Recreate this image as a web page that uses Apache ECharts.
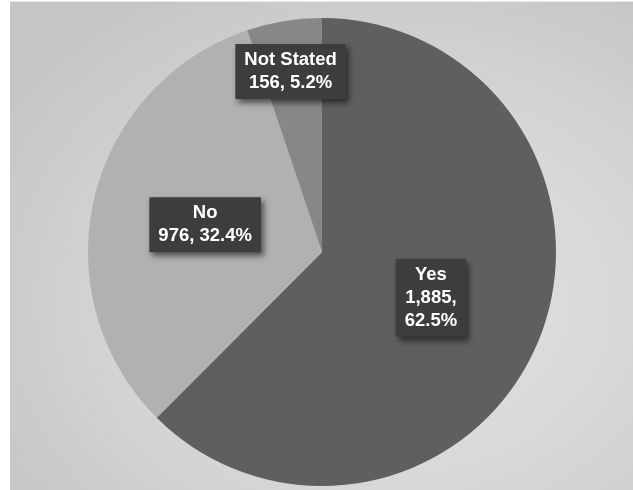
<!DOCTYPE html>
<html><head><meta charset="utf-8">
<script src="https://cdn.jsdelivr.net/npm/echarts@6/dist/echarts.min.js"></script>
<style>
html,body{margin:0;padding:0;background:#fff;width:633px;height:490px;overflow:hidden;}
#bg{position:absolute;left:10px;top:1px;width:623px;height:489px;
 background:radial-gradient(ellipse 75% 75% at 62% 62%, #e3e3e3 0%, #d6d6d6 55%, #c5c5c5 100%);
 border-top:1px solid #e8e8e8;box-sizing:border-box;}
#main{position:absolute;left:0;top:0;width:633px;height:490px;}
</style></head>
<body><div id="bg"></div><div id="main"></div>
<script>
var categories = ['Yes', 'No', 'Not Stated'];
var values = [1885, 976, 156];
var percents = [62.5, 32.4, 5.2];
var colors = ['#5f5f5f', '#b1b1b1', '#878787'];

var chart = echarts.init(document.getElementById('main'), null, {renderer:'canvas'});
var data = categories.map(function(c,i){ return {name:c, value:values[i], itemStyle:{color:colors[i]}}; });
function fmt(n){ return n.toString().replace(/\B(?=(\d{3})+(?!\d))/g, ','); }
chart.setOption({
  backgroundColor: 'transparent',
  animation: false,
  series: [{
    type: 'pie',
    center: [322, 252],
    radius: [0, 234],
    startAngle: 90,
    clockwise: true,
    data: data,
    itemStyle: {borderWidth: 0},
    emphasis: {disabled: true},
    label: {
      show: true,
      position: 'inside',
      formatter: function(p){
        var i = p.dataIndex;
        var sep = i === 0 ? ',\n' : ', ';
        return p.name + '\n' + fmt(values[i]) + sep + percents[i].toFixed(1) + '%';
      },
      color: '#ffffff',
      fontFamily: '"Liberation Sans", Arial, sans-serif',
      fontWeight: 'bold',
      fontSize: 18.5,
      lineHeight: 23,
      align: 'center',
      backgroundColor: '#3d3d3d',
      padding: [5, 9, 4, 9],
      shadowColor: 'rgba(0,0,0,0.55)',
      shadowBlur: 6,
      shadowOffsetX: 3,
      shadowOffsetY: 4
    },
    labelLine: {show: false},
    labelLayout: function(p){
      if (p.dataIndex === 2) return {dx: -12, dy: -62};
      if (p.dataIndex === 0) return {dx: -2, dy: 0};
      return {};
    }
  }]
});
</script>
</body></html>
